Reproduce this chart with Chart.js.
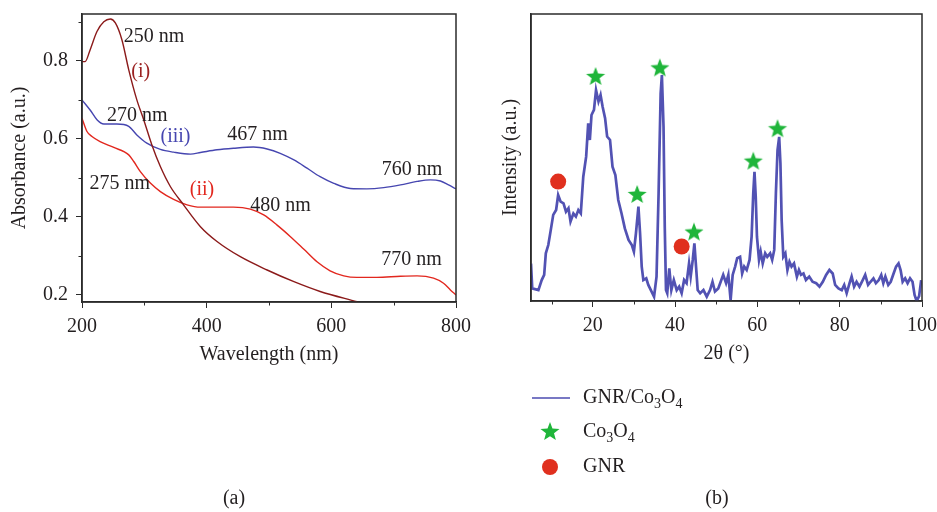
<!DOCTYPE html>
<html>
<head>
<meta charset="utf-8">
<script src="https://cdn.jsdelivr.net/npm/chart.js@4"></script>
<style>
  body { margin: 0; background: #fff; width: 937px; height: 512px; overflow: hidden; position: relative; }
  canvas { position: absolute; top: 0; }
  #uv { left: 0; }
  #xrd { left: 470px; }
</style>
</head>
<body>
<canvas id="uv" width="480" height="512"></canvas>
<canvas id="xrd" width="467" height="512"></canvas>
<script>
// ---- panel (a): UV-Vis absorbance ----
const waveI = [200, 205, 213, 224, 235, 245.5, 253.5, 264, 275, 288, 299, 312, 325.7, 341.7, 362, 390, 416.6, 454, 497, 540, 582, 641];
const absI  = [0.798, 0.798, 0.828, 0.875, 0.90, 0.907, 0.897, 0.854, 0.777, 0.70, 0.649, 0.585, 0.529, 0.478, 0.433, 0.375, 0.337, 0.298, 0.264, 0.234, 0.209, 0.183];

const waveII = [200, 208, 216, 229, 251, 275, 283, 293.6, 310, 325.7, 347, 368.5, 390, 416.6, 443, 470, 491.5, 513, 534, 556, 577, 598, 620, 641, 673, 711, 737.5, 764, 780, 791, 800];
const absII  = [0.653, 0.619, 0.606, 0.593, 0.578, 0.559, 0.542, 0.516, 0.486, 0.465, 0.445, 0.431, 0.425, 0.425, 0.425, 0.42, 0.405, 0.379, 0.35, 0.317, 0.285, 0.262, 0.249, 0.245, 0.245, 0.248, 0.249, 0.243, 0.23, 0.213, 0.20];

const waveIII = [200, 213, 224, 235, 256, 275, 288, 304, 325.7, 347, 374, 390, 416.6, 443, 475, 497, 518, 540, 561, 582, 604, 630.5, 657, 684, 711, 737.5, 759, 775, 788, 800];
const absIII  = [0.70, 0.674, 0.649, 0.638, 0.638, 0.632, 0.61, 0.589, 0.573, 0.566, 0.561, 0.565, 0.572, 0.576, 0.579, 0.574, 0.563, 0.546, 0.525, 0.503, 0.486, 0.473, 0.472, 0.475, 0.482, 0.491, 0.495, 0.492, 0.482, 0.472];

const uvXTicks = [200, 400, 600, 800];
const uvXMinor = [300, 500, 700];
const uvYTicks = [0.2, 0.4, 0.6, 0.8];
const uvYMinor = [0.3, 0.5, 0.7, 0.9];

const noteText  = ['250 nm', '(i)', '270 nm', '(iii)', '467 nm', '760 nm', '275 nm', '(ii)', '480 nm', '770 nm'];
const noteWave  = [267, 279, 240, 326, 433, 681, 212, 373, 470, 680];
const noteAbs   = [0.862, 0.773, 0.659, 0.606, 0.61, 0.522, 0.484, 0.469, 0.428, 0.291];
const noteColor = ['#231f20', '#9b2222', '#231f20', '#4646b0', '#231f20', '#231f20', '#231f20', '#e2271e', '#231f20', '#231f20'];

// ---- panel (b): XRD ----
const xrdTheta = [5, 5.3, 6.8, 7.6, 8.2, 8.6, 9.2, 9.8, 10.4, 11.1, 11.6, 12.2, 12.9, 13.5, 14.1, 14.6, 15.3, 15.9, 16.5, 17.1, 17.7, 18.4, 18.9, 19.3, 19.7, 20.3, 20.8, 21.4, 21.9, 22.4, 23, 23.5, 24.2, 24.8, 25.5, 26.2, 27, 27.8, 28.7, 29.5, 30, 30.5, 31.1, 31.5, 31.9, 32.3, 33, 33.5, 34.3, 34.9, 35.5, 36, 36.5, 36.8, 37.2, 37.5, 37.8, 38.1, 38.6, 39.1, 39.7, 40.4, 41, 41.6, 42.2, 42.8, 43.4, 43.8, 44.3, 44.7, 45.1, 45.5, 46.1, 46.9, 47.7, 48.5, 49.1, 49.7, 50.5,
  51.7, 52.4, 52.95, 53.5, 54, 54.6, 55.1, 55.8, 56.3, 56.8, 57.4, 58.1, 58.6, 59, 59.3, 59.6, 59.9, 60.4, 60.8, 61.3, 61.9, 62.4, 63.1, 63.6, 64.1, 64.5, 64.9, 65.3, 65.6, 65.9, 66.3, 66.8, 67.3, 67.8, 68.3, 68.9, 69.6, 70.1, 70.6, 71.2, 71.8, 72.6, 73.4, 74.3, 75.1, 75.9, 76.7, 77.5, 78.3, 78.9, 79.7, 80.5, 81.1, 81.7, 82.4, 82.9, 83.5, 84.1, 84.8, 85.6, 86.2, 86.9, 87.5, 88.2, 88.8, 89.5, 90.1, 90.6, 91.1, 91.8, 92.4, 93.1, 93.7, 94.3, 94.8, 95.3, 95.9, 96.5, 97.1, 97.7, 98.2, 98.7, 99.3, 99.8];
const xrdIntensity = [13, 4.4, 3.8, 7.3, 9.1, 16.6, 19.5, 24.7, 30, 31.7, 36.9, 34.6, 34, 31.1, 32.3, 27.7, 30.5, 29.4, 31.7, 30.5, 43.3, 50.3, 61.9, 56.1, 64.8, 66.6, 73.5, 69.5, 71.8, 67.7, 63.7, 57.3, 56.1, 46.8, 43.9, 35.2, 30.5, 25.3, 21.3, 19.5, 17.2, 23.6, 32.9, 23.6, 12, 7.3, 7.9, 5.6, 3.3, 1.5, 8.5, 37.5, 72.3, 78.7, 60.7, 25.9, 3.8, 2.7, 11.4, 3.8, 7.3, 3.8, 5, 2.7, 7.3, 6.2, 13.1, 8.5, 14.3, 20.1, 12, 3.8, 2.7, 3.8, 1.5, 3.8, 6.7, 3.3, 4.4,
  9.1, 6.2, 9.1, 0.3, 9.1, 12, 14.9, 15.4, 9.6, 12, 10.8, 14.3, 22.4, 37.5, 45, 36.4, 22.4, 14.3, 17.2, 13.1, 16.6, 15.4, 16.6, 14.3, 17.8, 37.5, 52.6, 57.2, 48, 28.2, 15.4, 16.6, 10.8, 13.7, 12, 13.1, 8.5, 10.8, 9.1, 9.6, 7.3, 8.5, 6.7, 6.2, 5, 6.7, 9.1, 10.8, 9.6, 5.6, 4.4, 3.8, 5.6, 2.7, 6.2, 8.5, 5, 6.7, 5, 7.3, 9.1, 5.6, 6.7, 7.9, 6.2, 7.3, 9.1, 6.2, 8.5, 5.6, 6.7, 9.6, 12, 13.1, 10.8, 6.7, 7.9, 6.2, 7.9, 6.7, 2.1, 0, 1.7, 7.3];

const starTheta = [20.7, 36.3, 30.8, 44.6, 59, 64.9];
const starInt   = [78.4, 81.4, 37.3, 24.2, 48.9, 60.2];
const dotTheta  = [11.6, 41.6];
const dotInt    = [41.6, 19];

const xrdXTicks = [20, 40, 60, 80, 100];
const xrdXMinor = [10, 30, 50, 70, 90];

const legendLabels = [[['GNR/Co', 0], ['3', 1], ['O', 0], ['4', 1]], [['Co', 0], ['3', 1], ['O', 0], ['4', 1]], [['GNR', 0]]];

const FONT = '"Liberation Serif", "DejaVu Serif", serif';
const INK = '#231f20';
const BLUE = '#4b4bb0';
const XRD_BLUE = '#5252b3';
const GREEN = '#1fb53a';
const DOT_RED = '#e0301e';

function pts(xs, ys) { return xs.map((x, i) => ({ x: x, y: ys[i] })); }

function makeStar(r) {
  const c = document.createElement('canvas');
  c.width = c.height = Math.ceil(r * 2 + 2);
  const g = c.getContext('2d');
  const cx = c.width / 2, cy = c.height / 2 + 1;
  g.beginPath();
  for (let k = 0; k < 10; k++) {
    const rad = k % 2 === 0 ? r : r * 0.42;
    const a = -Math.PI / 2 + k * Math.PI / 5;
    g.lineTo(cx + rad * Math.cos(a), cy + rad * Math.sin(a));
  }
  g.closePath();
  g.fillStyle = GREEN;
  g.fill();
  return c;
}
const starImg = makeStar(10);

function fixTicks(values) {
  return function (scale) { scale.ticks = values.map(v => ({ value: v })); };
}

// fixed axis sizes, no extra padding from edge labels
function fitX(h) {
  return s => { s.height = h; s.paddingLeft = 0; s.paddingRight = 0; };
}
function fitY(w) {
  return s => { s.width = w; s.paddingTop = 0; s.paddingBottom = 0; };
}

// frame + minor ticks
function frameBox(xMinor, yMinor) {
  return {
    id: 'frameBox',
    afterDraw(chart) {
      const { ctx, chartArea: a, scales } = chart;
      ctx.save();
      ctx.strokeStyle = '#2b2b2b';
      ctx.lineWidth = 1.5;
      ctx.strokeRect(a.left, a.top, a.right - a.left, a.bottom - a.top);
      ctx.lineWidth = 1;
      ctx.beginPath();
      xMinor.forEach(v => {
        const px = Math.round(scales.x.getPixelForValue(v)) + 0.5;
        ctx.moveTo(px, a.bottom); ctx.lineTo(px, a.bottom + 3.5);
      });
      yMinor.forEach(v => {
        const py = Math.round(scales.y.getPixelForValue(v)) + 0.5;
        ctx.moveTo(a.left, py); ctx.lineTo(a.left - 3.5, py);
      });
      ctx.stroke();
      ctx.restore();
    }
  };
}

function drawParts(ctx, parts, x, y) {
  parts.forEach(p => {
    ctx.font = p[1] ? '14px ' + FONT : '20px ' + FONT;
    ctx.fillText(p[0], x, y + (p[1] ? 6 : 0));
    x += ctx.measureText(p[0]).width;
  });
}

const notesPlugin = {
  id: 'notes',
  afterDatasetsDraw(chart) {
    const { ctx, scales } = chart;
    ctx.save();
    ctx.font = '20px ' + FONT;
    ctx.textBaseline = 'middle';
    ctx.textAlign = 'left';
    noteText.forEach((t, i) => {
      ctx.fillStyle = noteColor[i];
      ctx.fillText(t, scales.x.getPixelForValue(noteWave[i]), scales.y.getPixelForValue(noteAbs[i]));
    });
    ctx.fillStyle = INK;
    ctx.textAlign = 'center';
    ctx.fillText('(a)', 234, 499);
    ctx.restore();
  }
};

const legendPlugin = {
  id: 'xrdLegend',
  afterDraw(chart) {
    const ctx = chart.ctx;
    const rows = [398, 432, 467];
    ctx.save();
    ctx.strokeStyle = BLUE;
    ctx.lineWidth = 1.5;
    ctx.beginPath(); ctx.moveTo(62, rows[0]); ctx.lineTo(100, rows[0]); ctx.stroke();
    ctx.drawImage(starImg, 80 - starImg.width / 2, rows[1] - starImg.height / 2 - 1);
    ctx.fillStyle = DOT_RED;
    ctx.beginPath(); ctx.arc(80, rows[2], 8, 0, Math.PI * 2); ctx.fill();
    ctx.fillStyle = INK;
    ctx.textBaseline = 'middle';
    ctx.textAlign = 'left';
    legendLabels.forEach((parts, i) => drawParts(ctx, parts, 113, rows[i]));
    ctx.font = '20px ' + FONT;
    ctx.textAlign = 'center';
    ctx.fillText('(b)', 247, 499);
    ctx.restore();
  }
};

const tickFont = { family: FONT, size: 20 };

new Chart(document.getElementById('uv'), {
  type: 'line',
  data: {
    datasets: [
      { data: pts(waveI, absI), borderColor: '#8b1a1a', borderWidth: 1.4, pointRadius: 0, cubicInterpolationMode: 'monotone' },
      { data: pts(waveII, absII), borderColor: '#e2271e', borderWidth: 1.4, pointRadius: 0, cubicInterpolationMode: 'monotone' },
      { data: pts(waveIII, absIII), borderColor: '#4646b0', borderWidth: 1.4, pointRadius: 0, cubicInterpolationMode: 'monotone' }
    ]
  },
  options: {
    responsive: false,
    animation: false,
    layout: { padding: { left: 0, right: 24, top: 14, bottom: 145 } },
    plugins: { legend: { display: false }, tooltip: { enabled: false } },
    scales: {
      x: {
        type: 'linear', min: 200, max: 800,
        afterBuildTicks: fixTicks(uvXTicks),
        afterFit: fitX(65),
        grid: { drawOnChartArea: false, tickLength: 6, color: '#2b2b2b' },
        border: { color: '#2b2b2b', width: 1.5 },
        ticks: { font: tickFont, color: INK, padding: 7, maxRotation: 0 },
        title: { display: true, text: 'Wavelength (nm)', font: tickFont, color: INK, padding: { top: 0, bottom: 0 } }
      },
      y: {
        type: 'linear', min: 0.182, max: 0.92,
        afterBuildTicks: fixTicks(uvYTicks),
        afterFit: fitY(82),
        grid: { drawOnChartArea: false, tickLength: 6, color: '#2b2b2b' },
        border: { color: '#2b2b2b', width: 1.5 },
        ticks: { font: tickFont, color: INK, padding: 8, callback: v => v.toFixed(1) },
        title: { display: true, text: 'Absorbance (a.u.)', font: tickFont, color: INK, padding: { top: 8, bottom: 0 } }
      }
    }
  },
  plugins: [frameBox(uvXMinor, uvYMinor), notesPlugin]
});

new Chart(document.getElementById('xrd'), {
  type: 'line',
  data: {
    datasets: [
      { data: pts(xrdTheta, xrdIntensity), borderColor: XRD_BLUE, borderWidth: 2.7, pointRadius: 0, tension: 0 },
      { data: pts(starTheta, starInt), showLine: false, pointStyle: starImg, pointRadius: 10, borderWidth: 0 },
      { data: pts(dotTheta, dotInt), showLine: false, pointStyle: 'circle', pointRadius: 8, backgroundColor: DOT_RED, borderColor: DOT_RED, borderWidth: 0 }
    ]
  },
  options: {
    responsive: false,
    animation: false,
    layout: { padding: { left: 25, right: 15, top: 14, bottom: 146 } },
    plugins: { legend: { display: false }, tooltip: { enabled: false } },
    scales: {
      x: {
        type: 'linear', min: 5, max: 100,
        afterBuildTicks: fixTicks(xrdXTicks),
        afterFit: fitX(65),
        grid: { drawOnChartArea: false, tickLength: 6, color: '#2b2b2b' },
        border: { color: '#2b2b2b', width: 1.5 },
        ticks: { font: tickFont, color: INK, padding: 7, maxRotation: 0 },
        title: { display: true, text: '2θ (°)', font: tickFont, color: INK, padding: { top: 0, bottom: 0 } }
      },
      y: {
        type: 'linear', min: 0, max: 100,
        afterFit: fitY(36),
        grid: { display: false },
        border: { color: '#2b2b2b', width: 1.5 },
        ticks: { display: false },
        title: { display: true, text: 'Intensity (a.u.)', font: tickFont, color: INK, padding: { top: 4, bottom: 0 } }
      }
    }
  },
  plugins: [frameBox(xrdXMinor, []), legendPlugin]
});
</script>
</body>
</html>
